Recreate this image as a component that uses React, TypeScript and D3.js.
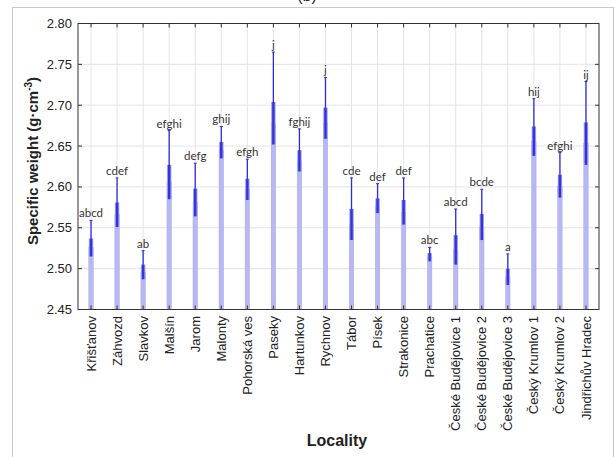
import React from 'react';
import * as d3 from 'd3';

const localities = [
  'Křišťanov', 'Záhvozd', 'Slavkov', 'Malšín', 'Jarom', 'Malonty', 'Pohorská ves',
  'Paseky', 'Hartunkov', 'Rychnov', 'Tábor', 'Písek', 'Strakonice', 'Prachatice',
  'České Budějovice 1', 'České Budějovice 2', 'České Budějovice 3',
  'Český Krumlov 1', 'Český Krumlov 2', 'Jindřichův Hradec',
];
const means = [2.526, 2.566, 2.496, 2.606, 2.581, 2.645, 2.597, 2.678, 2.632, 2.678,
  2.554, 2.577, 2.569, 2.514, 2.523, 2.551, 2.490, 2.656, 2.601, 2.653];
const se = [0.011, 0.015, 0.009, 0.021, 0.017, 0.010, 0.013, 0.026, 0.013, 0.019,
  0.019, 0.009, 0.015, 0.005, 0.018, 0.016, 0.010, 0.018, 0.014, 0.026];
const ci = [0.033, 0.045, 0.026, 0.063, 0.048, 0.029, 0.037, 0.087, 0.039, 0.056,
  0.057, 0.027, 0.042, 0.012, 0.050, 0.046, 0.028, 0.052, 0.041, 0.076];
const letters = ['abcd', 'cdef', 'ab', 'efghi', 'defg', 'ghij', 'efgh', 'j', 'fghij', 'j',
  'cde', 'def', 'def', 'abc', 'abcd', 'bcde', 'a', 'hij', 'efghi', 'ij'];
const yTicks = [2.45, 2.5, 2.55, 2.6, 2.65, 2.7, 2.75, 2.8];

const W = 615;
const H = 457;
const left = 78, right = 599, top = 23.5, bottom = 309.5;

export default function App() {
  const x = d3.scaleBand().domain(localities).range([left, right]).padding(0);
  const y = d3.scaleLinear().domain([2.45, 2.8]).range([bottom, top]);
  const cx = (d: string) => (x(d) as number) + x.bandwidth() / 2;
  const font = '"Liberation Sans", Arial, sans-serif';

  return (
    <svg width={W} height={H} style={{ position: 'absolute', left: 0, top: 0, background: '#fff' }}>
      <text x={307} y={1} textAnchor="middle" fontFamily={font} fontSize={16} fill="#222">(b)</text>
      <rect x={12.5} y={7.5} width={601} height={470} fill="none" stroke="#c8c8c8" />

      {/* grid */}
      {yTicks.map(t => (
        <line key={'gy' + t} x1={left} x2={right} y1={y(t)} y2={y(t)} stroke="#e4e4e4" />
      ))}
      {localities.map(d => (
        <line key={'gx' + d} x1={cx(d)} x2={cx(d)} y1={top} y2={bottom} stroke="#e4e4e4" />
      ))}

      {/* bars: mean, +-SE box, whisker */}
      {localities.map((d, i) => {
        const c = cx(d);
        return (
          <g key={'b' + d}>
            <line x1={c} x2={c} y1={y(means[i] + ci[i])} y2={y(means[i] - ci[i])} stroke="#2a2ae0" strokeWidth={1.3} />
            <line x1={c - 1.5} x2={c + 1.5} y1={y(means[i] + ci[i])} y2={y(means[i] + ci[i])} stroke="#2a2ae0" strokeWidth={1} />
            <rect x={c - 2.2} y={y(means[i])} width={4.4} height={bottom - y(means[i])} fill="#b8b8f2" stroke="#a4a4ec" strokeWidth={0.5} />
            <rect x={c - 2.2} y={y(means[i] + se[i])} width={4.4} height={y(means[i] - se[i]) - y(means[i] + se[i])} fill="#9c9cee" />
            <rect x={c - 1.2} y={y(means[i] + se[i])} width={2.4} height={y(means[i] - se[i]) - y(means[i] + se[i])} fill="#3434dc" />
            <text x={c} y={y(means[i] + ci[i]) - 3} textAnchor="middle" fontFamily="Lato, 'Open Sans', sans-serif" fontSize={11.5} fill="#333">{letters[i]}</text>
          </g>
        );
      })}

      {/* frame + ticks */}
      <rect x={left} y={top} width={right - left} height={bottom - top} fill="none" stroke="#333" strokeWidth={1} />
      {yTicks.map(t => (
        <g key={'ty' + t}>
          <line x1={left} x2={left + 4} y1={y(t)} y2={y(t)} stroke="#333" />
          <line x1={right - 4} x2={right} y1={y(t)} y2={y(t)} stroke="#333" />
          <text x={72} y={y(t)} dy="0.35em" textAnchor="end" fontFamily={font} fontSize={13} fill="#222">{t.toFixed(2)}</text>
        </g>
      ))}
      {localities.map(d => (
        <g key={'tx' + d}>
          <line x1={cx(d)} x2={cx(d)} y1={top} y2={top + 4} stroke="#333" />
          <line x1={cx(d)} x2={cx(d)} y1={bottom - 4} y2={bottom} stroke="#333" />
          <text transform={`translate(${cx(d)},316) rotate(-90)`} dy="0.35em" textAnchor="end" fontFamily={font} fontSize={13} fill="#222">{d}</text>
        </g>
      ))}

      <text transform="translate(33,161) rotate(-90)" dy="0.35em" textAnchor="middle" fontFamily={font} fontSize={15} fontWeight="bold" fill="#222">
        Specific weight  (g·cm<tspan fontSize={10} dy="-6">-3</tspan><tspan dy="6">)</tspan>
      </text>
      <text x={337} y={446} textAnchor="middle" fontFamily={font} fontSize={16} fontWeight="bold" fill="#222">Locality</text>
    </svg>
  );
}
